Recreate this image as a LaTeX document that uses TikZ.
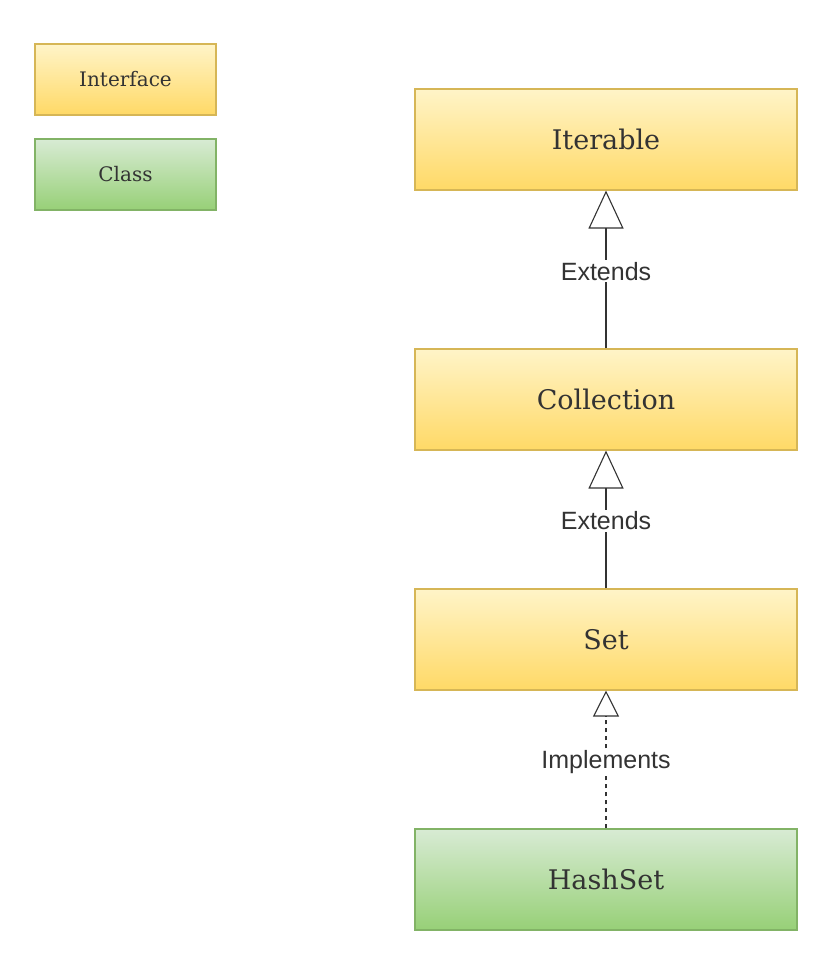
\documentclass[tikz,border=0pt]{standalone}
\usepackage{fontspec}
\setmainfont{DejaVu Serif}
\setsansfont{Liberation Sans}
\usetikzlibrary{arrows.meta}
\definecolor{ifaceTop}{HTML}{FFF4C8}
\definecolor{ifaceBot}{HTML}{FFD966}
\definecolor{ifaceLine}{HTML}{D6B656}
\definecolor{classTop}{HTML}{D8EBD4}
\definecolor{classBot}{HTML}{97D077}
\definecolor{classLine}{HTML}{82B366}
\definecolor{ink}{HTML}{333333}
\begin{document}
\begin{tikzpicture}[x=1pt, y=-1pt, line width=1.1pt,
  iface/.style = {draw=ifaceLine, top color=ifaceTop, bottom color=ifaceBot, text=ink, minimum width=382pt, minimum height=101pt, font=\fontsize{27}{32}\selectfont},
  cls/.style = {draw=classLine, top color=classTop, bottom color=classBot, text=ink, minimum width=382pt, minimum height=101pt, font=\fontsize{27}{32}\selectfont},
  small/.style = {minimum width=181pt, minimum height=71pt, font=\fontsize{20}{24}\selectfont},
  lbl/.style = {fill=white, text=ink, font=\sffamily\fontsize{25}{28}\selectfont, inner sep=2pt},
  gen/.style = {-{Triangle[open, length=38pt, width=35pt, line width=1.1pt]}, draw=ink}]
\useasboundingbox (0,0) rectangle (839,976);
% legend
\node[iface, small] (legI) at (125.5,79.5) {Interface};
\node[cls, small] (legC) at (125.5,174.5) {Class};
% hierarchy
\node[iface] (iterable) at (606,139.5) {Iterable};
\node[iface] (collection) at (606,399.5) {Collection};
\node[iface] (set) at (606,639.5) {Set};
\node[cls] (hashset) at (606,879.5) {HashSet};

\draw[gen] (collection) -- node[lbl, pos=0.49] {Extends} (iterable);
\draw[gen] (set) -- node[lbl, pos=0.49] {Extends} (collection);
\draw[gen, dash pattern=on 4pt off 4pt, -{Triangle[open, length=26pt, width=26pt, line width=1.1pt]}] (hashset) -- node[lbl, pos=0.48] {Implements} (set);
\end{tikzpicture}
\end{document}
